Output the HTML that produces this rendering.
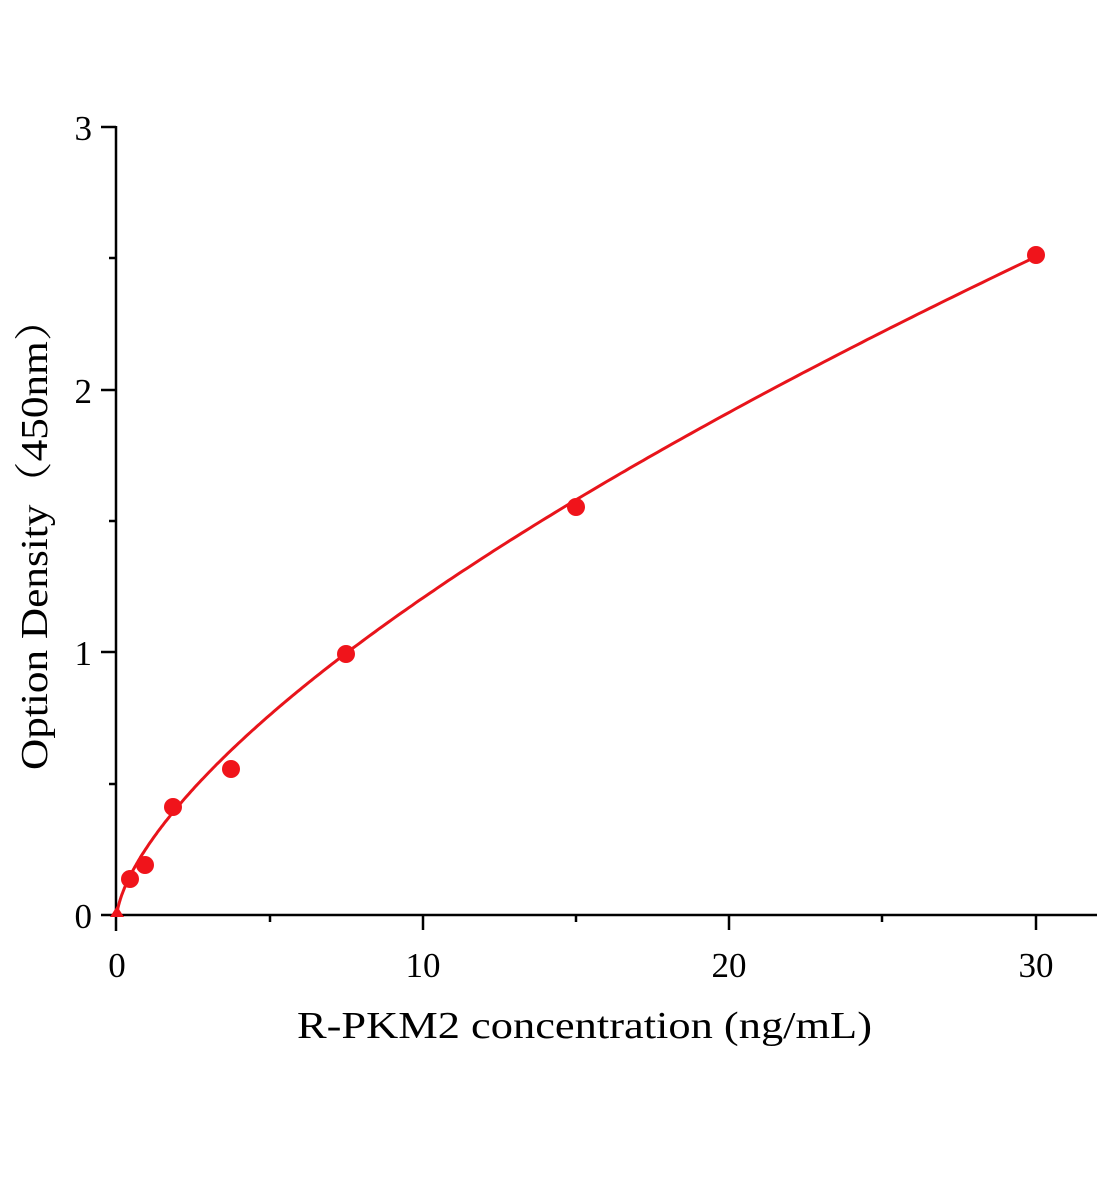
<!DOCTYPE html>
<html><head><meta charset="utf-8"><style>
html,body{margin:0;padding:0;background:#fff;}
svg{display:block;}
text{font-family:"Liberation Serif","Noto Serif CJK SC",serif;fill:#000;}
</style></head><body>
<svg id="s" width="1104" height="1200" viewBox="0 0 1104 1200" xmlns="http://www.w3.org/2000/svg">
<g stroke="#000" stroke-width="2.5" fill="none">
<line x1="116" y1="126" x2="116" y2="931"/>
<line x1="101" y1="915" x2="1097" y2="915"/>
<line x1="101" y1="127" x2="116" y2="127"/>
<line x1="101" y1="390" x2="116" y2="390"/>
<line x1="101" y1="652" x2="116" y2="652"/>
<line x1="109" y1="258" x2="116" y2="258"/>
<line x1="109" y1="521" x2="116" y2="521"/>
<line x1="109" y1="784" x2="116" y2="784"/>
<line x1="423" y1="915" x2="423" y2="930"/>
<line x1="729" y1="915" x2="729" y2="930"/>
<line x1="1036" y1="915" x2="1036" y2="930"/>
<line x1="270" y1="915" x2="270" y2="922"/>
<line x1="576" y1="915" x2="576" y2="922"/>
<line x1="882" y1="915" x2="882" y2="922"/>
</g>
<g font-size="35" text-anchor="end">
<text x="92" y="140">3</text>
<text x="92" y="403">2</text>
<text x="92" y="665">1</text>
<text x="92" y="928">0</text>
</g>
<g font-size="35" text-anchor="middle">
<text x="117" y="977">0</text>
<text x="423" y="977">10</text>
<text x="729" y="977">20</text>
<text x="1036" y="977">30</text>
</g>
<text x="297" y="1038" font-size="38" textLength="575" lengthAdjust="spacingAndGlyphs">R-PKM2 concentration (ng/mL)</text>
<text transform="translate(47,770) rotate(-90)" font-size="38" textLength="472" lengthAdjust="spacingAndGlyphs">Option Density（450nm）</text>
<path id="curve" stroke="#e8141b" stroke-width="3" fill="none" d=""/>
<g fill="#f0141b">
<circle cx="130" cy="879" r="9"/>
<circle cx="145" cy="865" r="9"/>
<circle cx="173" cy="807" r="9"/>
<circle cx="231" cy="769" r="9"/>
<circle cx="346" cy="654" r="9"/>
<circle cx="576" cy="507" r="9"/>
<circle cx="1036" cy="255" r="9"/>
<polygon points="117,906 110,917 124,917"/>
</g>
</svg>
<script>
var d="";for(var i=0;i<=300;i++){var x=30*Math.pow(i/300,2);var y=0.262*Math.pow(x,0.664);
var px=117+x*30.65, py=915-y*262.7;d+=(i?"L":"M")+px.toFixed(1)+","+py.toFixed(1);}
document.getElementById("curve").setAttribute("d",d);
</script>
</body></html>
